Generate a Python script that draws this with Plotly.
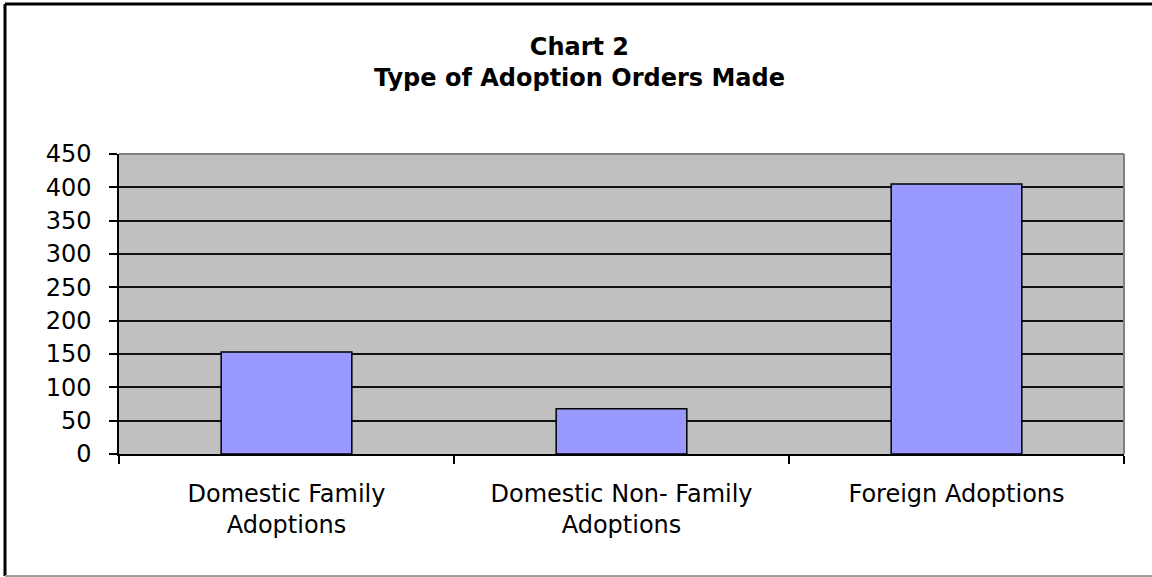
import plotly.graph_objects as go

categories = ["Domestic Family<br>Adoptions", "Domestic Non- Family<br>Adoptions", "Foreign Adoptions"]
values = [153, 68, 405]
y_ticks = [0, 50, 100, 150, 200, 250, 300, 350, 400, 450]
title_lines = ["Chart 2", "Type of Adoption Orders Made"]

W, H = 1152, 577
L, R, T, B = 119, 1124, 154, 454

fig = go.Figure(go.Bar(
    x=categories, y=values,
    marker=dict(color="#9999FF", line=dict(color="black", width=1.5)),
))

def px2paper_x(px):
    return (px - L) / (R - L)

def px2paper_y(py):
    return (B - py) / (B - T)

fig.update_layout(
    width=W, height=H,
    margin=dict(l=L, r=W - R, t=T, b=H - B, pad=0),
    paper_bgcolor="white",
    plot_bgcolor="#C0C0C0",
    bargap=0.61,
    showlegend=False,
    font=dict(family="DejaVu Sans", color="black"),
    title=dict(
        text="<br>".join(title_lines),
        x=0.503, xref="container", xanchor="center",
        y=1 - 55 / H, yref="container", yanchor="top",
        font=dict(family="DejaVu Sans", size=24, weight="bold", color="black"),
    ),
    xaxis=dict(
        showgrid=False, tickson="boundaries", ticks="outside", ticklen=8,
        tickwidth=1.5, tickcolor="black", showline=True, linecolor="black",
        linewidth=1.5, tickfont=dict(size=24), ticklabelstandoff=17,
        fixedrange=True,
    ),
    yaxis=dict(
        range=[0, 450], tickvals=y_ticks, ticks="outside", ticklen=8,
        tickwidth=1.5, tickcolor="black", showline=True, linecolor="black",
        linewidth=1.5, showgrid=True, gridcolor="#111111", gridwidth=2,
        zeroline=False, tickfont=dict(size=24), ticklabelstandoff=13,
        fixedrange=True,
    ),
    shapes=[
        # gray top/right border of the plot area
        dict(type="line", xref="paper", yref="paper", x0=0, x1=1, y0=1, y1=1,
             line=dict(color="#808080", width=2), layer="above"),
        dict(type="line", xref="paper", yref="paper", x0=1, x1=1, y0=0, y1=1,
             line=dict(color="#808080", width=2), layer="above"),
        # outer chart border: black top and left, gray bottom
        dict(type="line", xref="paper", yref="paper",
             x0=px2paper_x(5), x1=px2paper_x(1152),
             y0=px2paper_y(4), y1=px2paper_y(4),
             line=dict(color="black", width=3), layer="above"),
        dict(type="line", xref="paper", yref="paper",
             x0=px2paper_x(5), x1=px2paper_x(5),
             y0=px2paper_y(4), y1=px2paper_y(576),
             line=dict(color="black", width=3), layer="above"),
        dict(type="line", xref="paper", yref="paper",
             x0=px2paper_x(5), x1=px2paper_x(1152),
             y0=px2paper_y(576), y1=px2paper_y(576),
             line=dict(color="#A0A0A0", width=2), layer="above"),
    ],
)

fig.write_html("out.html", config={"displayModeBar": False},
               post_script="document.body.style.margin='0';")
